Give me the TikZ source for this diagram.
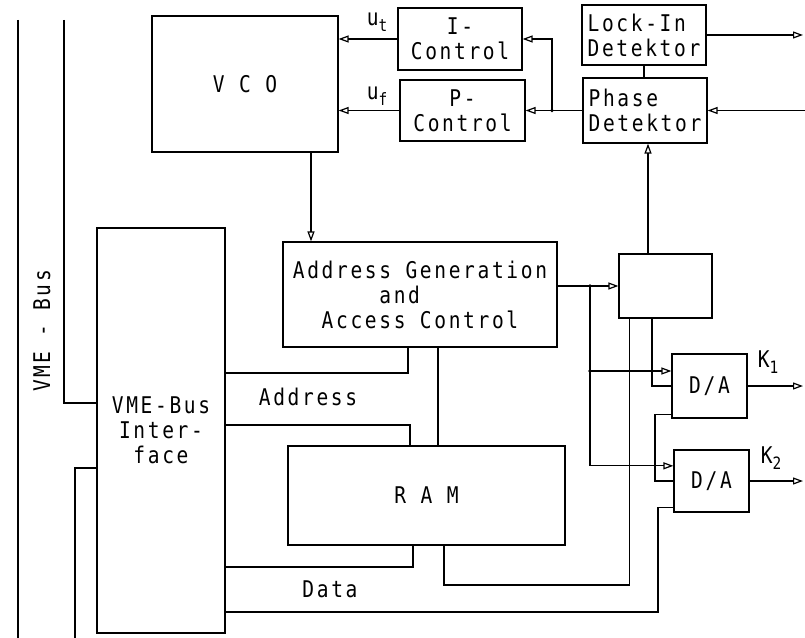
\documentclass[tikz,border=0pt]{standalone}
\usepackage{fontspec}
\usetikzlibrary{arrows.meta,calc}
\newfontfamily\plt[FakeStretch=0.85,LetterSpace=11.5]{DejaVu Sans Mono}
\newcommand\lsub[1]{\raisebox{-0.5ex}{\fontsize{17bp}{17bp}\selectfont #1}}
\begin{document}
\begin{tikzpicture}[x=1bp,y=-1bp,line width=1.2bp,
  box/.style={draw, inner sep=0pt, align=center, font=\plt\fontsize{23bp}{25bp}\selectfont},
  lbl/.style={inner sep=0pt, font=\plt\fontsize{23bp}{25bp}\selectfont},
  arr/.style={-{Triangle[open,length=10bp,width=7bp]}}
]
\useasboundingbox (0,0) rectangle (805,638);

% boxes
\node[box, minimum width=186bp, minimum height=136bp] (vco) at (245,84) {V C O};
\node[box, minimum width=124bp, minimum height=62bp] (ictl) at (460,39) {I-\\Control};
\node[box, minimum width=125bp, minimum height=61bp] (pctl) at (462.5,110.5) {P-\\Control};
\node[box, align=left, minimum width=124bp, minimum height=60bp] (lock) at (644,35) {Lock-In\\Detektor};
\node[box, align=left, minimum width=124bp, minimum height=65bp] (phase) at (645,110.5) {Phase\\Detektor};
\node[box, minimum width=274bp, minimum height=105bp] (agen) at (420,294.5) {Address Generation\\and\phantom{xxx}\\Access Control};
\node[box, minimum width=93bp, minimum height=64bp] (sb) at (665.5,286) {};
\node[box, minimum width=128bp, minimum height=405bp] (vmei) at (161,430.5) {VME-Bus\\Inter-\\face};
\node[box, minimum width=277bp, minimum height=99bp] (ram) at (426.5,495.5) {R A M};
\node[box, minimum width=75bp, minimum height=64bp] (da1) at (709.5,386) {D/A};
\node[box, minimum width=75bp, minimum height=62bp] (da2) at (711.5,481) {D/A};

% labels
\node[lbl] (ut) at (377,22) {u\lsub{t}};
\node[lbl] (uf) at (377,96) {u\lsub{f}};
\node[lbl] (k1) at (768,362) {K\lsub{1}};
\node[lbl] (k2) at (771,458) {K\lsub{2}};
\node[lbl] (addr) at (308,397) {Address};
\node[lbl] (data) at (330,589) {Data};
\node[lbl, rotate=90] (bus) at (42,331) {VME - Bus};

% helper coordinates
\coordinate (y403) at (0,403);
\coordinate (y468) at (0,468);
\coordinate (y373) at (0,373);
\coordinate (y425) at (0,425);
\coordinate (y567) at (0,567);
\coordinate (y585) at (0,585);
\coordinate (y612) at (0,612);
\coordinate (x408) at (408,0);
\coordinate (x410) at (410,0);
\coordinate (x413) at (413,0);
\coordinate (x438) at (438,0);
\coordinate (x444) at (444,0);
\coordinate (x655) at (655,0);
\coordinate (x658) at (658,0);

% VME bus lines
\coordinate (bl1t) at (18,20);
\coordinate (bl1b) at (18,638);
\coordinate (bl2t) at (64,20);
\coordinate (bl3b) at (75,638);
\draw (bl1t) -- (bl1b);
\draw (bl2t) |- (vmei.west |- y403);
\draw (bl3b) |- (vmei.west |- y468);

% control loop
\draw[arr] (ictl.west) -- (ictl.west -| vco.east);
\draw[arr] (pctl.west) -- (pctl.west -| vco.east);
\coordinate (j1) at (552,110.5);
\draw[arr] (phase.west) -- (pctl.east);
\draw[arr] (j1) |- (ictl.east);
\fill (j1) circle (1.8bp);
\draw (lock.south) -- (lock.south |- phase.north);
\coordinate (lockout) at (803,35);
\draw[arr] (lock.east) -- (lockout);
\coordinate (phin) at (805,110.5);
\draw[arr] (phin) -- (phase.east);
\draw[arr] ([xshift=-17.5bp]sb.north) -- ([xshift=-17.5bp]sb.north |- phase.south);
\draw[arr] ([xshift=66bp]vco.south) -- ([xshift=66bp]vco.south |- agen.north);

% address generation outputs
\coordinate (j2) at (590,286);
\draw[arr] (agen.east |- sb.west) -- (sb.west);
\coordinate (da1in) at ($(da1.north west)!0.27!(da1.south west)$);
\coordinate (da2in) at ($(da2.north west)!0.26!(da2.south west)$);
\draw[arr] (j2) |- (da2in);
\draw[arr] (j2 |- da1in) -- (da1in);
\fill (j2) circle (1.8bp);
\fill (j2 |- da1in) circle (1.8bp);

% small box connections
\draw ([xshift=-36bp]sb.south) |- (x444 |- y585) -- (ram.south -| x444);
\draw ([xshift=-13.5bp]sb.south) |- (da1.west);
\coordinate (da1lo) at ($(da1.north west)!0.94!(da1.south west)$);
\draw (da1lo) -- (da1lo -| x655) |- (da2.west);
\coordinate (da2lo) at ($(da2.north west)!0.92!(da2.south west)$);
\draw (da2lo) -- (da2lo -| x658) |- (vmei.east |- y612);

% address and data channels
\draw (vmei.east |- y373) -| (agen.south -| x408);
\draw (vmei.east |- y425) -| (ram.north -| x410);
\draw (agen.south -| x438) -- (ram.north -| x438);
\draw (vmei.east |- y567) -| (ram.south -| x413);

% outputs
\coordinate (k1out) at (803,386);
\coordinate (k2out) at (803,481);
\draw[arr] (da1.east) -- (k1out);
\draw[arr] (da2.east) -- (k2out);
\end{tikzpicture}
\end{document}
